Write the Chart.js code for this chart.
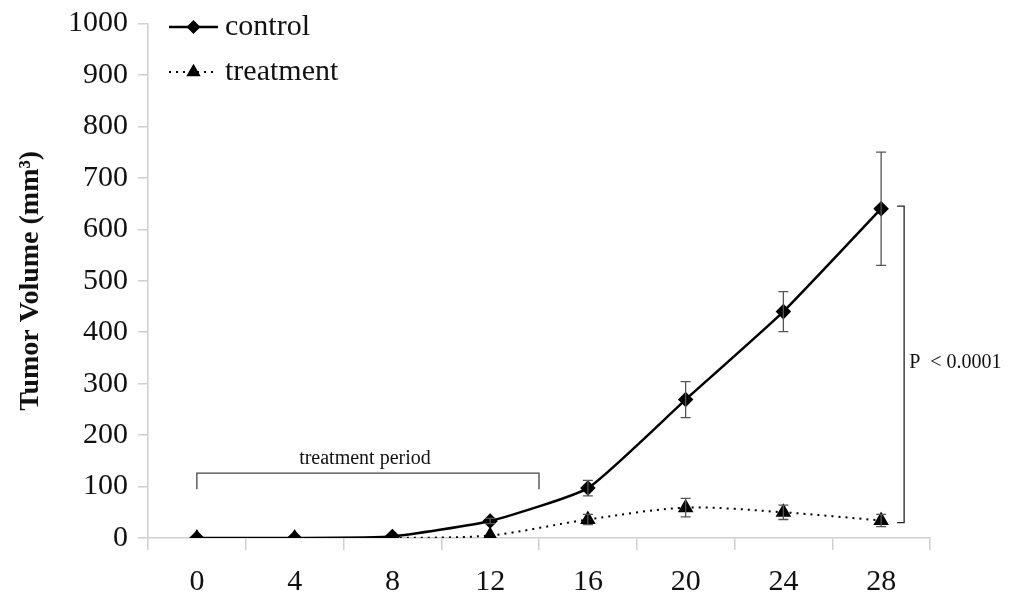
<!DOCTYPE html>
<html><head><meta charset="utf-8">
<script src="https://cdn.jsdelivr.net/npm/chart.js@4.4.1/dist/chart.umd.min.js"></script>
<style>html,body{margin:0;padding:0;background:#fff}#wrap{width:1014px;height:606px}</style>
</head><body><div id="wrap"><canvas id="c" width="1014" height="606"></canvas></div>
<script>
const days = ['0','4','8','12','16','20','24','28'];
const controlValues = [0, 0, 3, 33, 97, 269, 440, 640];
const controlErrors = [0, 0, 0, 5, 15, 35, 39, 110];
const treatmentValues = [0, 0, 0, 5, 36, 59, 50, 34];
const treatmentErrors = [0, 0, 0, 0, 10, 18, 14, 12];
const yTicks = [0,100,200,300,400,500,600,700,800,900,1000];
const periodBracket = {from: 0, to: 14, value: 127, label: 'treatment period'};
const pBracket = {top: 645, bottom: 30, label: 'P  < 0.0001'};

const serif = "'Liberation Serif', 'Times New Roman', serif";

function xPix(scale, day){
  const i0 = Math.floor(day/4), frac = day/4 - i0;
  const a = scale.getPixelForValue(i0);
  const b = scale.getPixelForValue(Math.min(i0+1, days.length-1));
  return a + (b-a)*frac;
}

const errPlugin = {
  id:'extras',
  afterDatasetsDraw(chart){
    const ctx = chart.ctx, x = chart.scales.x, y = chart.scales.y;
    ctx.save();
    ctx.strokeStyle = '#555'; ctx.lineWidth = 1.3;
    [[controlValues, controlErrors],[treatmentValues, treatmentErrors]].forEach(([v,e])=>{
      v.forEach((val,i)=>{
        if(!e[i]) return;
        const px = x.getPixelForValue(i);
        const t = y.getPixelForValue(val+e[i]), b = y.getPixelForValue(val-e[i]);
        ctx.beginPath();
        ctx.moveTo(px,t); ctx.lineTo(px,b);
        ctx.moveTo(px-5,t); ctx.lineTo(px+5,t);
        ctx.moveTo(px-5,b); ctx.lineTo(px+5,b);
        ctx.stroke();
      });
    });
    ctx.strokeStyle = '#444'; ctx.lineWidth = 1.3;
    const bx0 = xPix(x, periodBracket.from), bx1 = xPix(x, periodBracket.to);
    const by = y.getPixelForValue(periodBracket.value)+0.5;
    ctx.beginPath();
    ctx.moveTo(bx0, by+16); ctx.lineTo(bx0, by); ctx.lineTo(bx1, by); ctx.lineTo(bx1, by+16);
    ctx.stroke();
    ctx.fillStyle = '#111'; ctx.font = 'normal 20px '+serif; ctx.textAlign='center'; ctx.textBaseline='middle';
    ctx.fillText(periodBracket.label, (bx0+bx1)/2 - 3, by-14);
    const px = x.getPixelForValue(7) + 23;
    const pt = y.getPixelForValue(pBracket.top), pb = y.getPixelForValue(pBracket.bottom);
    ctx.strokeStyle = '#222';
    ctx.beginPath();
    ctx.moveTo(px-7, pt); ctx.lineTo(px, pt); ctx.lineTo(px, pb); ctx.lineTo(px-7, pb);
    ctx.stroke();
    ctx.textAlign='left'; ctx.textBaseline='middle'; ctx.font = 'normal 20px '+serif;
    ctx.fillText(pBracket.label, px+5, (pt+pb)/2 - 2);
    const items = [
      {label:'control', ds:chart.data.datasets[0], y:27},
      {label:'treatment', ds:chart.data.datasets[1], y:72}
    ];
    items.forEach(it=>{
      const lx0 = 169, lx1 = 218, cy = it.y;
      ctx.save();
      ctx.strokeStyle = '#000'; ctx.lineWidth = it.ds.borderWidth;
      ctx.setLineDash(it.ds.borderDash || []);
      ctx.beginPath(); ctx.moveTo(lx0, cy); ctx.lineTo(lx1, cy); ctx.stroke();
      ctx.restore();
      ctx.fillStyle = '#000'; ctx.strokeStyle = '#000';
      Chart.helpers.drawPoint(ctx, {pointStyle: it.ds.pointStyle, radius: it.ds.pointRadius, borderWidth:1, rotation:0}, (lx0+lx1)/2, cy);
      ctx.fillStyle = '#111'; ctx.font = 'normal 30px '+serif; ctx.textAlign='left'; ctx.textBaseline='middle';
      ctx.fillText(it.label, 225, cy);
    });
    ctx.restore();
  }
};

new Chart(document.getElementById('c'), {
  type:'line',
  data:{
    labels: days,
    datasets:[
      {label:'control', data: controlValues, borderColor:'#000', backgroundColor:'#000', borderWidth:2.5,
       pointStyle:'rectRot', pointRadius:6, pointBackgroundColor:'#000', pointBorderColor:'#000', tension:0.15, order:1},
      {label:'treatment', data: treatmentValues, borderColor:'#000', backgroundColor:'#000', borderWidth:2,
       borderDash:[2,5], pointStyle:'triangle', pointRadius:7, pointBackgroundColor:'#000', pointBorderColor:'#000', tension:0.3, order:0}
    ]
  },
  options:{
    responsive:false, animation:false,
    layout:{padding:{top:21, right:84, left:14, bottom:0}},
    plugins:{legend:{display:false}, tooltip:{enabled:false}},
    scales:{
      x:{
        offset:true,
        grid:{display:true, drawOnChartArea:false, offset:true, tickLength:12, color:'#cfcfcf', lineWidth:1.5},
        border:{color:'#cfcfcf', width:1.5},
        ticks:{color:'#111', font:{family:serif, size:30}, padding:14, maxRotation:0},
        afterFit(s){ s.height = 68; }
      },
      y:{
        min:0, max:1000,
        afterBuildTicks(s){ s.ticks = yTicks.map(v=>({value:v})); },
        grid:{display:true, drawOnChartArea:false, tickLength:10, color:'#cfcfcf', lineWidth:1.5},
        border:{color:'#cfcfcf', width:1.5},
        ticks:{color:'#111', font:{family:serif, size:30, lineHeight:0.9}, padding:10, callback:(v)=>String(v)},
        title:{display:true, text:'Tumor Volume (mm³)', color:'#111', font:{family:serif, size:28, weight:'bold'}, padding:{top:0,bottom:2}},
        afterFit(s){ s.width = 134; }
      }
    }
  },
  plugins:[errPlugin]
});
</script>
</body></html>
